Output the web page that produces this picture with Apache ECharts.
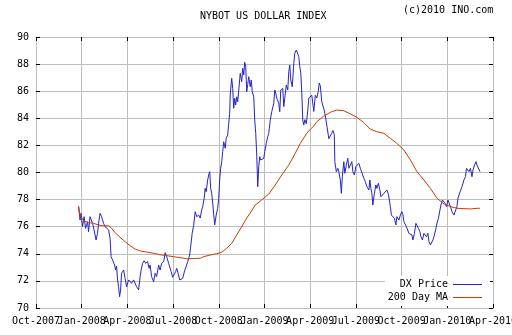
<!DOCTYPE html>
<html><head><meta charset="utf-8">
<script src="https://cdn.jsdelivr.net/npm/echarts@6/dist/echarts.min.js"></script>
<style>html,body{margin:0;padding:0;background:#fff}#c{width:512px;height:335px}</style>
</head><body><div id="c"></div>
<script>
// x positions are days since 2007-10-01
const xTickLabels = ['Oct-2007','Jan-2008','Apr-2008','Jul-2008','Oct-2008','Jan-2009','Apr-2009','Jul-2009','Oct-2009','Jan-2010','Apr-2010'];
const yTickValues = [70,72,74,76,78,80,82,84,86,88,90];

const priceDay = [85,88,90,93,96,99,103,105,108,111,113,116,120,123,125,128,131,135,138,141,145,148,150,153,157,159,161,163,165,167,169,171,175,178,181,185,188,191,195,198,201,205,208,210,213,216,219,223,226,228,231,235,238,241,245,248,251,255,258,261,265,268,270,273,276,279,281,284,287,290,293,297,300,303,307,309,312,315,318,321,325,328,331,333,336,338,340,343,345,347,349,351,353,356,357,360,363,365,367,369,371,373,375,378,380,383,385,387,388,390,391,393,395,397,399,401,403,406,408,411,413,415,417,419,421,423,425,428,430,432,435,437,439,441,443,445,447,449,452,455,457,460,463,465,468,471,475,477,479,481,485,487,489,493,495,497,500,503,505,507,509,512,515,517,520,523,525,527,529,531,533,535,537,540,543,545,548,551,555,558,561,564,566,568,571,575,578,581,585,588,591,593,596,597,600,603,605,608,610,612,615,617,620,623,625,628,631,633,636,639,641,645,648,651,655,658,661,665,667,669,671,673,676,679,681,684,687,689,692,695,698,701,704,706,708,710,713,716,719,721,725,728,731,733,735,737,740,743,745,748,751,753,756,759,761,764,767,769,772,775,777,780,783,785,788,791,793,796,799,801,804,807,809,812,815,817,820,823,825,828,831,835,838,841,843,845,848,851,855,858,860,863,865,868,871,873,876,879,881,884,887];
const priceValue = [77.48,76.49,76.99,76.00,76.74,75.88,76.37,75.63,76.74,76.86,76.25,75.76,75.02,75.51,76.25,76.99,76.74,76.25,76.00,76.13,75.76,75.14,73.79,73.54,73.17,72.80,73.10,72.07,71.57,70.83,71.33,72.56,72.80,72.19,71.57,72.07,72.19,71.82,72.07,71.94,71.57,71.33,72.31,72.80,73.30,73.49,73.30,73.42,72.93,73.17,72.31,71.94,72.56,72.31,73.17,72.80,73.30,73.42,74.08,73.79,73.30,73.17,72.68,72.27,72.19,72.68,72.93,72.56,72.07,71.94,72.19,72.75,72.86,73.42,73.91,74.52,75.51,76.10,77.11,76.74,76.86,76.64,77.23,77.48,78.10,78.83,78.58,79.45,79.82,80.06,78.83,78.46,77.73,77.85,76.13,76.86,77.36,78.10,79.45,80.31,80.80,81.54,82.27,81.79,82.52,82.77,83.63,84.37,85.72,86.58,86.95,86.21,84.74,85.48,84.98,85.59,85.23,86.46,87.32,86.70,87.69,87.20,88.13,87.81,85.96,86.50,87.07,86.33,86.83,85.96,85.59,83.87,82.89,81.29,78.95,80.43,81.17,80.92,80.80,81.05,81.54,82.15,82.64,82.89,83.87,84.49,85.11,86.09,85.85,85.48,85.11,84.49,86.09,86.21,84.86,85.48,86.46,86.09,87.44,87.93,86.83,86.33,88.06,88.80,89.04,88.92,88.55,87.81,87.32,85.85,83.87,83.50,83.90,83.60,84.60,85.50,85.60,85.70,84.50,85.70,85.50,86.00,86.60,86.40,85.20,84.70,84.20,84.10,82.50,82.40,82.90,83.10,82.80,80.80,80.06,80.31,80.06,79.45,78.46,79.69,80.80,79.94,80.55,81.05,80.31,80.55,80.80,80.06,79.82,80.43,80.55,80.68,80.31,80.18,79.57,79.32,78.95,78.71,79.45,78.83,78.46,77.60,78.46,79.08,78.83,79.20,78.71,78.21,78.10,78.46,78.58,78.71,78.40,77.97,77.48,76.86,76.74,76.62,76.13,76.74,76.49,76.86,77.11,76.90,76.37,76.25,76.00,76.10,75.51,75.63,75.39,75.02,75.51,76.25,76.37,75.88,75.63,75.26,75.02,75.51,75.40,75.26,75.51,74.89,74.65,74.52,75.02,75.39,75.88,76.25,76.62,77.23,77.60,77.97,78.10,77.73,77.48,77.97,78.10,77.48,77.11,76.86,76.99,77.48,78.10,78.34,78.21,78.95,79.45,79.69,80.31,80.18,80.06,80.31,79.69,80.18,80.55,80.80,80.55,80.43,80.06];

const maDay = [85,88,95,105,115,125,135,145,151,158,168,178,188,198,208,221,235,248,261,275,288,301,315,328,335,348,361,371,381,391,401,411,421,428,438,451,465,478,491,505,518,528,541,548,555,561,568,575,588,601,615,628,641,655,668,681,695,708,721,735,748,761,775,788,801,815,828,841,855,868,881,887];
const maValue = [77.53,76.86,76.44,76.30,76.25,76.13,76.07,76.07,75.88,75.56,75.22,74.89,74.60,74.35,74.21,74.13,74.04,73.93,73.86,73.79,73.71,73.64,73.65,73.67,73.79,73.91,74.01,74.11,74.41,74.77,75.39,76.00,76.64,77.01,77.60,77.97,78.41,79.08,79.82,80.55,81.42,82.15,82.89,83.19,83.43,83.75,83.95,84.17,84.44,84.61,84.56,84.32,84.07,83.68,83.19,83.01,82.89,82.52,82.15,81.66,80.92,80.06,79.45,78.83,78.10,77.68,77.48,77.36,77.33,77.31,77.36,77.36];

const FONT = 'DejaVu Sans Mono';
const X_MAX = 913, Q = 91.3;
const Y_MIN = yTickValues[0], Y_MAX = yTickValues[yTickValues.length-1];

const chart = echarts.init(document.getElementById('c'), null, {renderer:'canvas'});
const grey = '#bdbdbd';
const txt = {fontFamily: FONT, fontSize: 10, color: '#000', fontWeight: 'normal'};
const labelFmt = (v)=>xTickLabels[Math.round(v/Q)];

chart.setOption({
  animation:false,
  backgroundColor:'#fff',
  title:[
    {text:'NYBOT US DOLLAR INDEX', left:200, top:11, padding:0, textStyle:txt},
    {text:'(c)2010 INO.com', left:403, top:5, padding:0, textStyle:txt}
  ],
  grid:{left:36, right:19, top:37, bottom:27, containLabel:false, outerBoundsMode:'none'},
  legend:{
    orient:'vertical', right:22, bottom:29, align:'right',
    backgroundColor:'#fff', padding:[2,8,2,3], itemGap:0,
    itemWidth:29, itemHeight:1, icon:'rect',
    textStyle:{...txt, lineHeight:13},
    data:['DX Price','200 Day MA']
  },
  xAxis:[
    { // interior quarter labels, grid lines, ticks
      type:'value', position:'bottom', min:0, max:X_MAX, interval:Q,
      axisLine:{show:true, onZero:false, lineStyle:{color:grey, width:1}},
      axisTick:{show:true, inside:true, length:4, lineStyle:{color:'#000'}},
      axisLabel:{...txt, margin:8, showMinLabel:false, showMaxLabel:false, formatter:labelFmt},
      splitLine:{show:true, lineStyle:{color:grey, width:1}}
    },
    { // first and last labels
      type:'value', position:'bottom', min:0, max:X_MAX, interval:X_MAX,
      axisLine:{show:false},
      axisTick:{show:true, inside:true, length:4, lineStyle:{color:'#000'}},
      axisLabel:{...txt, margin:8, showMinLabel:true, showMaxLabel:true, formatter:labelFmt},
      splitLine:{show:false}
    },
    { // top frame with ticks
      type:'value', position:'top', min:0, max:X_MAX, interval:Q,
      axisLine:{show:true, onZero:false, lineStyle:{color:grey, width:1}},
      axisTick:{show:true, inside:true, length:4, lineStyle:{color:'#000'}},
      axisLabel:{show:false},
      splitLine:{show:false}
    }
  ],
  yAxis:[
    {
      type:'value', position:'left', min:Y_MIN, max:Y_MAX, interval:2,
      axisLine:{show:true, onZero:false, lineStyle:{color:grey, width:1}},
      axisTick:{show:true, inside:true, length:4, lineStyle:{color:'#000'}},
      axisLabel:{...txt, margin:7},
      splitLine:{show:true, lineStyle:{color:grey, width:1}}
    },
    {
      type:'value', position:'right', min:Y_MIN, max:Y_MAX, interval:2,
      axisLine:{show:true, onZero:false, lineStyle:{color:grey, width:1}},
      axisTick:{show:true, inside:true, length:4, lineStyle:{color:'#000'}},
      axisLabel:{show:false},
      splitLine:{show:false}
    }
  ],
  series:[
    {name:'DX Price', type:'line', xAxisIndex:0, yAxisIndex:0, symbol:'none', silent:true,
     color:'#2424c8', lineStyle:{color:'#2424c8', width:1},
     data: priceDay.map((d,i)=>[d, priceValue[i]])},
    {name:'200 Day MA', type:'line', xAxisIndex:0, yAxisIndex:0, symbol:'none', silent:true,
     color:'#c44000', lineStyle:{color:'#c44000', width:1},
     data: maDay.map((d,i)=>[d, maValue[i]])}
  ]
});
</script></body></html>
